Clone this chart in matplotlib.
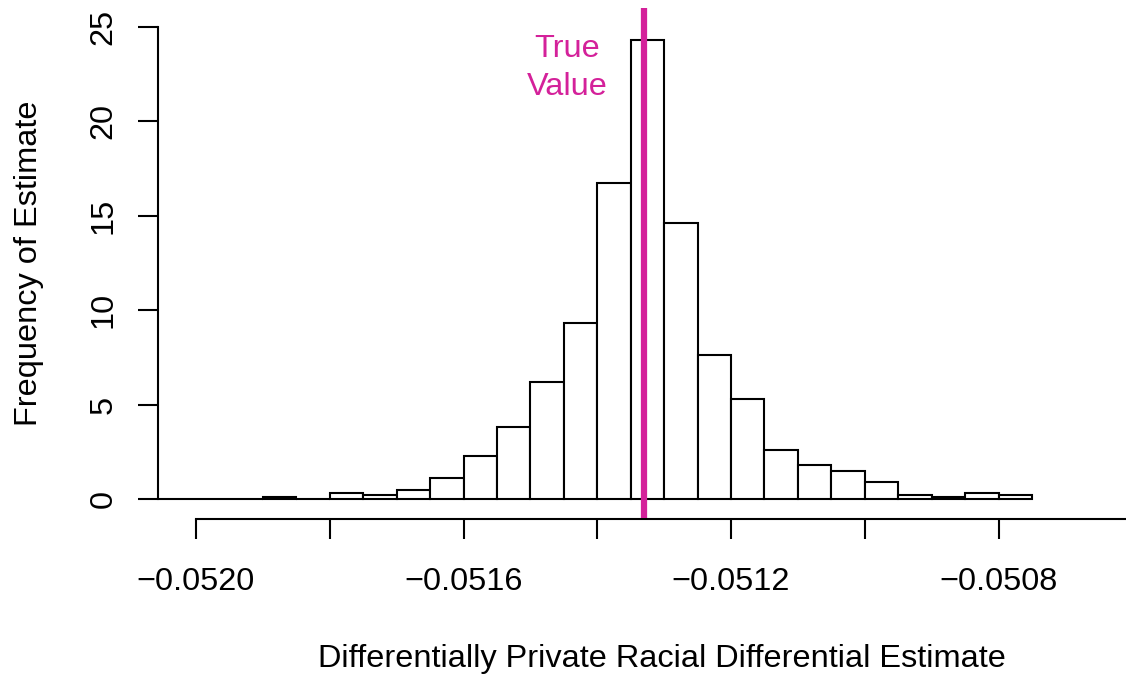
import numpy as np
import matplotlib
matplotlib.use("Agg")
import matplotlib.pyplot as plt

# ---- data ----
bin_width = 0.00005
bin_start = -0.05210
# percent of estimates per bin (bins of width 0.00005 starting at -0.05210)
freq = [0.0, 0.0, 0.0, 0.0, 0.1, 0.0, 0.3, 0.2, 0.5, 1.1, 2.3, 3.8, 6.2, 9.3,
        16.7, 24.3, 14.6, 7.6, 5.3, 2.6, 1.8, 1.5, 0.9, 0.2, 0.1, 0.3, 0.2]
true_value = -0.05133
x_ticks = [-0.0520, -0.0518, -0.0516, -0.0514, -0.0512, -0.0510, -0.0508, -0.0506]
x_tick_labels = ["\u22120.0520", "", "\u22120.0516", "", "\u22120.0512", "", "\u22120.0508", ""]
y_ticks = [0, 5, 10, 15, 20, 25]

xlabel = "Differentially Private Racial Differential Estimate"
ylabel = "Frequency of Estimate"
annot = "True\nValue"

plt.rcParams['font.family'] = ['Liberation Sans', 'DejaVu Sans']
FS = 23.4
magenta = '#D4219A'

fig = plt.figure(figsize=(11.26, 6.77), dpi=100)
W, H = 1126, 677
left_px, right_px, top_px, bot_px = 158, 1100, 7.6, 518
ax = fig.add_axes([left_px / W, 1 - bot_px / H, (right_px - left_px) / W, (bot_px - top_px) / H])

edges = bin_start + bin_width * np.arange(len(freq))
ax.bar(edges, freq, width=bin_width, align='edge', facecolor='white',
       edgecolor='black', linewidth=1.5, zorder=2)

ax.axvline(true_value, color=magenta, linewidth=4.5, zorder=3)
ax.text(-0.051445, 22.8, annot, color=magenta, fontsize=FS, ha='center', va='center',
        linespacing=1.35)

ax.set_xticks(x_ticks)
ax.set_xticklabels(x_tick_labels)
ax.set_yticks(y_ticks)
ax.set_yticklabels([str(v) for v in y_ticks], rotation=90, va='center')

px_per_unit = 668750.0
ax.set_xlim(-0.0520 - (196 - left_px) / px_per_unit, -0.0520 + (right_px - 196) / px_per_unit)
ax.set_ylim(-1, 26)

for s in ['top', 'right']:
    ax.spines[s].set_visible(False)
ax.spines['left'].set_bounds(0, 25)
ax.spines['bottom'].set_bounds(-0.0520, -0.0506)
ax.spines['left'].set_linewidth(1.5)
ax.spines['bottom'].set_linewidth(1.5)
ax.spines['bottom'].set_position(('outward', 1))
ax.spines['bottom'].set_clip_on(False)

ax.tick_params(axis='both', direction='out', length=14.4, width=1.5, labelsize=FS)
ax.tick_params(axis='x', pad=20)
ax.tick_params(axis='y', pad=14)

ax.set_xlabel(xlabel, fontsize=FS, labelpad=33.5, x=0.535)
ax.set_ylabel(ylabel, fontsize=FS, labelpad=32)
ax.patch.set_visible(False)

fig.savefig("out.png", dpi=100)
